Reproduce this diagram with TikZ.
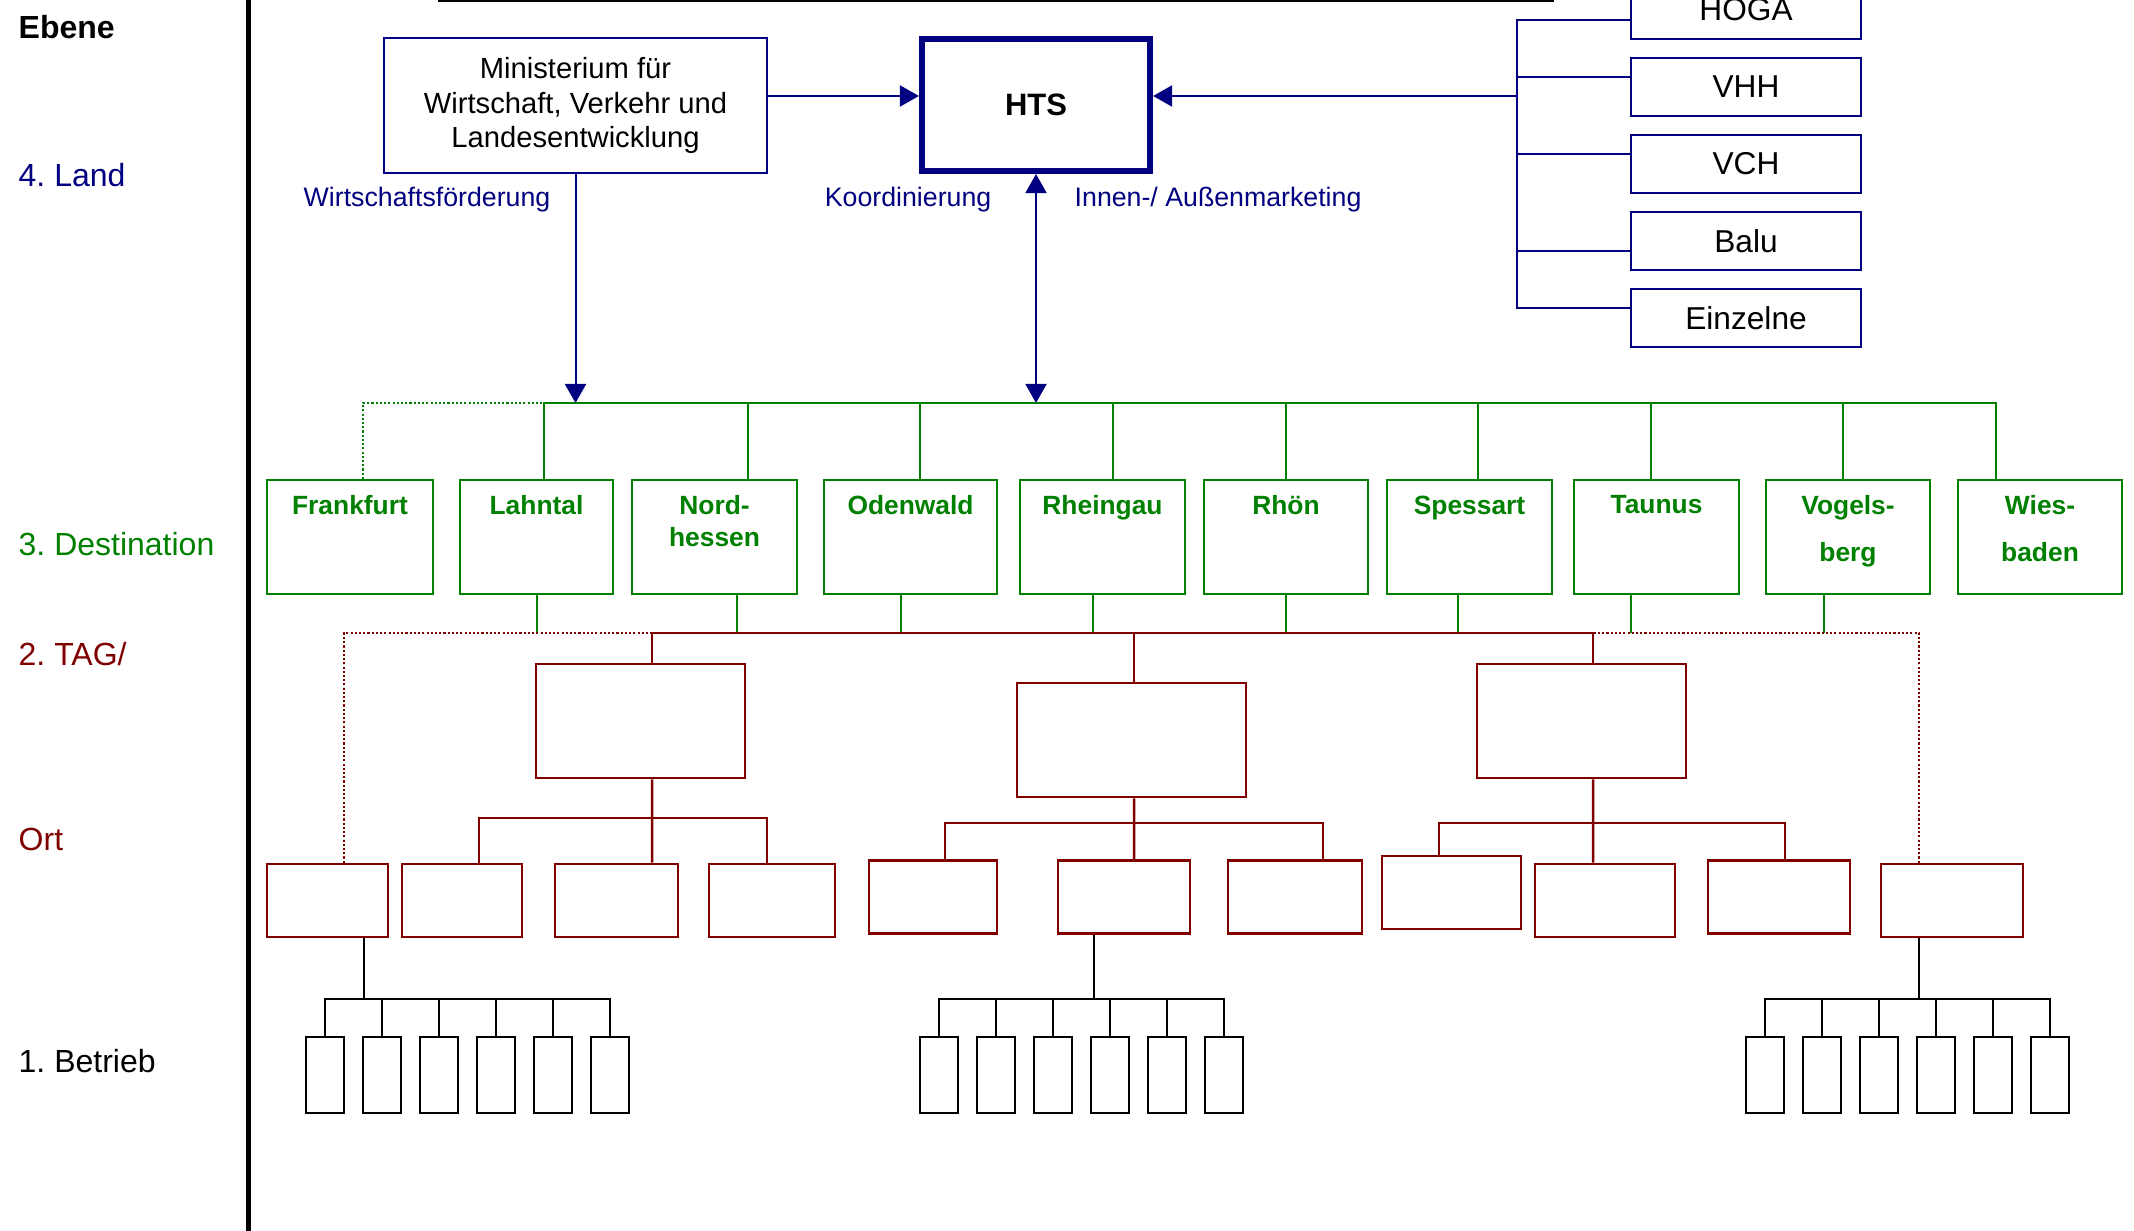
\documentclass[tikz,border=0pt]{standalone}
\usepackage{fontspec}
\setmainfont{Liberation Sans}
\usepackage{tikz}
\usetikzlibrary{arrows.meta}
\frenchspacing
\definecolor{navy}{RGB}{0,0,128}
\definecolor{dgreen}{RGB}{0,128,0}
\definecolor{dred}{RGB}{128,0,0}
\tikzstyle{ebene} = [anchor=base west, inner sep=0, font=\fontsize{9.1}{11}\selectfont]
\tikzstyle{land} = [rectangle, draw=navy, line width=0.02cm, align=center]
\tikzstyle{verband} = [rectangle, draw=navy, line width=0.02cm, minimum width=2.3cm, minimum height=0.58cm, node distance=0.77cm, font=\fontsize{9}{11}\selectfont]
\tikzstyle{dest} = [rectangle, draw=dgreen, line width=0.02cm, minimum width=1.65cm, minimum height=1.14cm]
\tikzstyle{dtext} = [anchor=north, inner sep=0, align=center, text=dgreen, font=\bfseries\fontsize{7.5}{9.1}\selectfont]
\tikzstyle{tagbox} = [rectangle, draw=dred, line width=0.025cm, minimum width=2.09cm, minimum height=1.14cm]
\tikzstyle{ortbox} = [rectangle, draw=dred, line width=0.025cm, minimum height=0.73cm]
\tikzstyle{betrieb} = [rectangle, draw=black, line width=0.02cm, minimum width=0.38cm, minimum height=0.76cm, node distance=0.57cm]
\tikzstyle{elabel} = [inner sep=0, text=navy, font=\fontsize{7.6}{9}\selectfont]
\tikzstyle{arrow} = [draw=navy, line width=0.02cm, -{Triangle[length=1.9mm, width=2.1mm]}]
\tikzstyle{darrow} = [draw=navy, line width=0.02cm, {Triangle[length=1.9mm, width=2.1mm]}-{Triangle[length=1.9mm, width=2.1mm]}]
\tikzstyle{nline} = [draw=navy, line width=0.02cm]
\tikzstyle{gline} = [draw=dgreen, line width=0.02cm]
\tikzstyle{rline} = [draw=dred, line width=0.025cm]
\tikzstyle{bline} = [draw=black, line width=0.02cm]
\tikzstyle{fein} = [dash pattern=on 0.6pt off 0.6pt]

\begin{document}
\begin{tikzpicture}[x=0.01cm, y=-0.01cm]
  \useasboundingbox (0,0) rectangle (2134,1231);
  \clip (0,0) rectangle (2134,1231);
  \draw[line width=0.05cm] (248,0) -- (248,1231);
  \draw[line width=0.03cm] (438,1) -- (1554,1);

  \node(e0)[ebene, font=\bfseries\fontsize{9.1}{11}\selectfont] at (18,39){Ebene};
  \node(e4)[ebene, text=navy] at (18,187){4. Land};
  \node(e3)[ebene, text=dgreen] at (18,556){3. Destination};
  \node(e2)[ebene, text=dred] at (18,666){2. TAG/};
  \node(eo)[ebene, text=dred] at (18,850){Ort};
  \node(e1)[ebene] at (18,1072){1. Betrieb};

  \node(mwv)[land, minimum width=3.83cm, minimum height=1.35cm, font=\fontsize{8.3}{9.7}\selectfont] at (575.5,105.5){Ministerium für\\Wirtschaft, Verkehr und\\Landesentwicklung};
  \node(hts)[land, line width=0.06cm, minimum width=2.28cm, minimum height=1.32cm, font=\bfseries\fontsize{8.8}{11}\selectfont] at (1036,105){HTS};
  \node(hoga)[verband] at (1746,10){HOGA};
  \node(vhh)[verband, below of=hoga]{VHH};
  \node(vch)[verband, below of=vhh]{VCH};
  \node(balu)[verband, below of=vch]{Balu};
  \node(ein)[verband, below of=balu]{Einzelne};

  \coordinate(rb) at (1517,96);
  \coordinate(g) at (0,403);
  \coordinate(r) at (0,633);
  \coordinate(ro) at (0,818);
  \coordinate(rp) at (0,823);
  \coordinate(bb) at (0,999);

  \draw[arrow] (mwv.east |- rb) -- (hts.west |- rb);
  \draw[arrow] (rb) -- (hts.east |- rb);
  \draw[nline] (hoga.185) -| (ein.175 -| rb) -- (ein.175);
  \draw[nline] (vhh.175) -- (vhh.175 -| rb);
  \draw[nline] (vch.175) -- (vch.175 -| rb);
  \draw[nline] (balu.185) -- (balu.185 -| rb);
  \draw[arrow] (mwv.south) -- (mwv.south |- g);
  \draw[darrow] (hts.south) -- (hts.south |- g);
  \node(wf)[elabel, anchor=base east] at (551,207){Wirtschaftsförderung};
  \node(ko)[elabel, anchor=base east] at (992,207){Koordinierung};
  \node(im)[elabel, anchor=base west] at (1074,207){Innen-/ Außenmarketing};

  \node(fra)[dest, minimum width=1.66cm] at (350,537){};
  \node(lah)[dest, minimum width=1.53cm] at (536.5,537){};
  \node(nor)[dest] at (714.5,537){};
  \node(ode)[dest, minimum width=1.73cm] at (910.5,537){};
  \node(rhg)[dest] at (1102.5,537){};
  \node(rhn)[dest, minimum width=1.64cm] at (1286,537){};
  \node(spe)[dest] at (1469.5,537){};
  \node(tau)[dest] at (1656.5,537){};
  \node(vog)[dest, minimum width=1.64cm] at (1848,537){};
  \node(wie)[dest, minimum width=1.64cm] at (2040,537){};
  \node(tfra)[dtext] at ([yshift=-0.16cm]fra.north){Frankfurt};
  \node(tlah)[dtext] at ([yshift=-0.16cm]lah.north){Lahntal};
  \node(tnor)[dtext] at ([yshift=-0.16cm]nor.north){Nord-\\hessen};
  \node(tode)[dtext] at ([yshift=-0.16cm]ode.north){Odenwald};
  \node(trhg)[dtext] at ([yshift=-0.16cm]rhg.north){Rheingau};
  \node(trhn)[dtext] at ([yshift=-0.16cm]rhn.north){Rhön};
  \node(tspe)[dtext] at ([yshift=-0.16cm]spe.north){Spessart};
  \node(ttau)[dtext] at ([yshift=-0.16cm]tau.north){Taunus};
  \node(tvog)[dtext] at ([yshift=-0.16cm]vog.north){Vogels-\\[0.15cm]berg};
  \node(twie)[dtext] at ([yshift=-0.16cm]wie.north){Wies-\\[0.15cm]baden};

  \draw[gline] ([xshift=0.075cm]lah.north) |- ([xshift=-0.44cm]wie.north |- g) -- ([xshift=-0.44cm]wie.north);
  \draw[gline, fein] ([xshift=0.13cm]fra.north) |- ([xshift=0.075cm]lah.north |- g);
  \draw[gline] ([xshift=0.335cm]nor.north) -- ([xshift=0.335cm]nor.north |- g);
  \draw[gline] ([xshift=0.095cm]ode.north) -- ([xshift=0.095cm]ode.north |- g);
  \draw[gline] ([xshift=0.105cm]rhg.north) -- ([xshift=0.105cm]rhg.north |- g);
  \draw[gline] (rhn.north) -- (rhn.north |- g);
  \draw[gline] ([xshift=0.085cm]spe.north) -- ([xshift=0.085cm]spe.north |- g);
  \draw[gline] ([xshift=-0.055cm]tau.north) -- ([xshift=-0.055cm]tau.north |- g);
  \draw[gline] ([xshift=-0.05cm]vog.north) -- ([xshift=-0.05cm]vog.north |- g);

  \node(tag1)[tagbox] at (640.5,721){};
  \node(tag2)[tagbox, minimum width=2.29cm] at (1131.5,740){};
  \node(tag3)[tagbox] at (1581.5,721){};

  \draw[gline] (lah.south) -- (lah.south |- r);
  \draw[gline] ([xshift=0.225cm]nor.south) -- ([xshift=0.225cm]nor.south |- r);
  \draw[gline] ([xshift=-0.095cm]ode.south) -- ([xshift=-0.095cm]ode.south |- r);
  \draw[gline] ([xshift=-0.095cm]rhg.south) -- ([xshift=-0.095cm]rhg.south |- r);
  \draw[gline] (rhn.south) -- (rhn.south |- r);
  \draw[gline] ([xshift=-0.115cm]spe.south) -- ([xshift=-0.115cm]spe.south |- r);
  \draw[gline] ([xshift=-0.255cm]tau.south) -- ([xshift=-0.255cm]tau.south |- r);
  \draw[gline] ([xshift=-0.24cm]vog.south) -- ([xshift=-0.24cm]vog.south |- r);

  \node(o1)[ortbox, minimum width=1.21cm] at (327.5,900.5){};
  \node(o2)[ortbox, minimum width=1.2cm] at (462,900.5){};
  \node(o3)[ortbox, minimum width=1.23cm] at (616.5,900.5){};
  \node(o4)[ortbox, minimum width=1.26cm] at (772,900.5){};
  \node(o5)[ortbox, minimum width=1.28cm] at (933,897){};
  \node(o6)[ortbox, minimum width=1.32cm] at (1124,897){};
  \node(o7)[ortbox, minimum width=1.34cm] at (1295,897){};
  \node(o8)[ortbox, minimum width=1.39cm] at (1451.5,892.5){};
  \node(o9)[ortbox, minimum width=1.4cm] at (1605,900.5){};
  \node(o10)[ortbox, minimum width=1.42cm] at (1779,897){};
  \node(o11)[ortbox, minimum width=1.42cm] at (1952,900.5){};

  \draw[rline] ([xshift=0.115cm]tag1.north) |- ([xshift=0.115cm]tag3.north |- r) -- ([xshift=0.115cm]tag3.north);
  \draw[rline] ([xshift=0.025cm]tag2.north) -- ([xshift=0.025cm]tag2.north |- r);
  \draw[rline, fein] ([xshift=0.165cm]o1.north) |- ([xshift=0.115cm]tag1.north |- r);
  \draw[rline, fein] ([xshift=-0.33cm]o11.north) |- ([xshift=0.115cm]tag3.north |- r);

  \draw[rline] ([xshift=0.115cm]tag1.south) -- ([xshift=0.355cm]o3.north);
  \draw[rline] ([xshift=0.17cm]o2.north) |- ([xshift=-0.05cm]o4.north |- ro) -- ([xshift=-0.05cm]o4.north);
  \draw[rline] ([xshift=0.025cm]tag2.south) -- ([xshift=0.1cm]o6.north);
  \draw[rline] ([xshift=0.12cm]o5.north) |- ([xshift=0.28cm]o7.north |- rp) -- ([xshift=0.28cm]o7.north);
  \draw[rline] ([xshift=0.115cm]tag3.south) -- ([xshift=-0.12cm]o9.north);
  \draw[rline] ([xshift=-0.125cm]o8.north) |- ([xshift=0.06cm]o10.north |- rp) -- ([xshift=0.06cm]o10.north);

  \node(a1)[betrieb] at (325,1075){};
  \node(a2)[betrieb, right of=a1]{};
  \node(a3)[betrieb, right of=a2]{};
  \node(a4)[betrieb, right of=a3]{};
  \node(a5)[betrieb, right of=a4]{};
  \node(a6)[betrieb, right of=a5]{};
  \node(b1)[betrieb] at (939,1075){};
  \node(b2)[betrieb, right of=b1]{};
  \node(b3)[betrieb, right of=b2]{};
  \node(b4)[betrieb, right of=b3]{};
  \node(b5)[betrieb, right of=b4]{};
  \node(b6)[betrieb, right of=b5]{};
  \node(c1)[betrieb] at (1765,1075){};
  \node(c2)[betrieb, right of=c1]{};
  \node(c3)[betrieb, right of=c2]{};
  \node(c4)[betrieb, right of=c3]{};
  \node(c5)[betrieb, right of=c4]{};
  \node(c6)[betrieb, right of=c5]{};

  \draw[bline] ([xshift=0.365cm]o1.south) -- ([xshift=0.365cm]o1.south |- bb);
  \draw[bline] (a1.north) |- (a6.north |- bb) -- (a6.north);
  \draw[bline] (a2.north) -- (a2.north |- bb) (a3.north) -- (a3.north |- bb) (a4.north) -- (a4.north |- bb) (a5.north) -- (a5.north |- bb);
  \draw[bline] ([xshift=-0.3cm]o6.south) -- ([xshift=-0.3cm]o6.south |- bb);
  \draw[bline] (b1.north) |- (b6.north |- bb) -- (b6.north);
  \draw[bline] (b2.north) -- (b2.north |- bb) (b3.north) -- (b3.north |- bb) (b4.north) -- (b4.north |- bb) (b5.north) -- (b5.north |- bb);
  \draw[bline] ([xshift=-0.33cm]o11.south) -- ([xshift=-0.33cm]o11.south |- bb);
  \draw[bline] (c1.north) |- (c6.north |- bb) -- (c6.north);
  \draw[bline] (c2.north) -- (c2.north |- bb) (c3.north) -- (c3.north |- bb) (c4.north) -- (c4.north |- bb) (c5.north) -- (c5.north |- bb);
\end{tikzpicture}
\end{document}
